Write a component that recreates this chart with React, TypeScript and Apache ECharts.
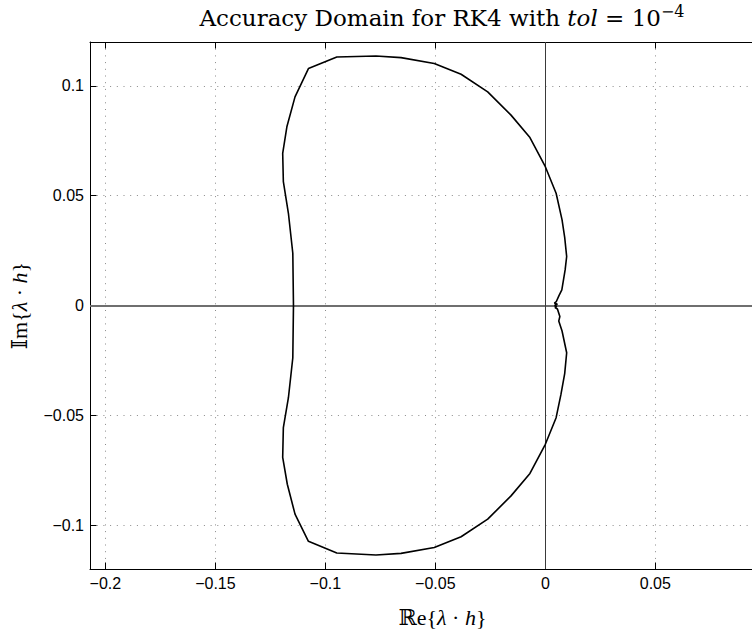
import React, { useEffect, useRef } from 'react';
import * as echarts from 'echarts';

const curveRe = [
  0.0041, 0.0055, 0.0041, 0.005, 0.0062, 0.0075, 0.009, 0.0097, 0.0088, 0.0076, 0.0049, 0.0,
  -0.007, -0.0156, -0.0262, -0.0383, -0.0505, -0.0656, -0.077, -0.0948, -0.1077, -0.1138,
  -0.1175, -0.1194, -0.1191, -0.1168, -0.1148, -0.1145,
  -0.1148, -0.1168, -0.1191, -0.1194, -0.1173, -0.1138, -0.1077, -0.0948, -0.077, -0.0656,
  -0.0505, -0.0383, -0.0262, -0.0156, -0.007, 0.0, 0.0049, 0.0071, 0.0088, 0.0097, 0.0076,
  0.0061, 0.0066, 0.0055, 0.0044, 0.0052, 0.0041,
];
const curveIm = [
  0.0, 0.0006, 0.0011, 0.0018, 0.0045, 0.0071, 0.0162, 0.0223, 0.031, 0.039, 0.0511, 0.0632,
  0.0765, 0.0867, 0.0973, 0.1053, 0.1102, 0.1129, 0.1136, 0.1132, 0.1079, 0.095,
  0.0814, 0.0693, 0.0564, 0.042, 0.0238, 0.0,
  -0.0238, -0.042, -0.0556, -0.0692, -0.0814, -0.095, -0.1074, -0.1127, -0.1136, -0.1129,
  -0.1102, -0.1053, -0.0973, -0.0867, -0.0765, -0.0632, -0.0511, -0.0405, -0.031, -0.0215,
  -0.0116, -0.0071, -0.005, -0.0016, -0.0009, -0.0005, 0.0,
];

const xTicks = [-0.2, -0.15, -0.1, -0.05, 0, 0.05, 0.1];
const xTickLabels = [-0.2, -0.15, -0.1, -0.05, 0, 0.05];
const yTicks = [-0.1, -0.05, 0, 0.05, 0.1];
const xRange = [-0.207, 0.1135];
const yRange = [-0.12, 0.12];
const zeroRe = 0;
const zeroIm = 0;

const SERIF = '"Liberation Serif", "DejaVu Serif", serif';
const TITLE_SERIF = '"DejaVu Serif", "Liberation Serif", serif';
const SANS = '"Liberation Sans", Arial, sans-serif';

const fmt = (v: number) => (v === 0 ? '0' : String(v).replace('-', '\u2212'));

export default function App() {
  const ref = useRef<HTMLDivElement>(null);
  useEffect(() => {
    document.body.style.margin = '0';
    const chart = echarts.init(ref.current!, null, { renderer: 'svg' });
    const tickStyle = { show: true, inside: true, length: 6.5, lineStyle: { color: '#000', width: 1 } };
    const axisLineStyle = { show: true, onZero: false, lineStyle: { color: '#000', width: 1 } };
    const splitStyle = { show: true, lineStyle: { color: '#8a8a8a', width: 1, type: [1, 5.7] } };
    const nameRich = {
      r: { fontFamily: SERIF, fontSize: 22, color: '#000' },
      i: { fontFamily: SERIF, fontSize: 22, fontStyle: 'italic', color: '#000' },
    };
    chart.setOption({
      animation: false,
      backgroundColor: '#fff',
      title: {
        left: 'center',
        top: 3,
        padding: 0,
        text: '{n|Accuracy Domain for RK4 with }{i|tol}{n| = 10}{s|\u22124}',
        textStyle: {
          fontWeight: 'normal',
          rich: {
            n: { fontFamily: TITLE_SERIF, fontSize: 23, fontWeight: 'normal', color: '#000', lineHeight: 30 },
            i: { fontFamily: TITLE_SERIF, fontSize: 23, fontWeight: 'normal', fontStyle: 'italic', color: '#000', lineHeight: 30 },
            s: { fontFamily: TITLE_SERIF, fontSize: 16, fontWeight: 'normal', color: '#000', lineHeight: 18, verticalAlign: 'top' },
          },
        },
      },
      grid: { left: 90, right: 89, top: 42, bottom: 69, containLabel: false },
      xAxis: [
        {
          type: 'value',
          position: 'bottom',
          min: xRange[0],
          max: xRange[1],
          axisLine: axisLineStyle,
          axisTick: { ...tickStyle, customValues: xTicks },
          axisLabel: { customValues: xTickLabels, formatter: fmt, fontFamily: SANS, fontSize: 16, color: '#000', margin: 6 },
          splitLine: splitStyle,
          name: '{r|\u211De{}{i|\u03BB}{r| \u00B7 }{i|h}}',
          nameLocation: 'middle',
          nameGap: 37,
          nameTextStyle: { fontFamily: SERIF, fontSize: 22, color: '#000', rich: nameRich },
        },
        {
          type: 'value',
          position: 'top',
          min: xRange[0],
          max: xRange[1],
          axisLine: axisLineStyle,
          axisTick: { ...tickStyle, customValues: xTicks },
          axisLabel: { show: false, customValues: xTickLabels },
          splitLine: { show: false },
        },
      ],
      yAxis: [
        {
          type: 'value',
          position: 'left',
          min: yRange[0],
          max: yRange[1],
          axisLine: axisLineStyle,
          axisTick: { ...tickStyle, customValues: yTicks },
          axisLabel: { customValues: yTicks, formatter: fmt, fontFamily: SANS, fontSize: 16, color: '#000', margin: 6 },
          splitLine: splitStyle,
          name: '{r|\uD835\uDD40m{}{i|\u03BB}{r| \u00B7 }{i|h}}',
          nameLocation: 'middle',
          nameRotate: 90,
          nameGap: 60,
          nameTextStyle: { fontFamily: SERIF, fontSize: 22, color: '#000', rich: nameRich },
        },
        {
          type: 'value',
          position: 'right',
          min: yRange[0],
          max: yRange[1],
          axisLine: axisLineStyle,
          axisTick: { ...tickStyle, customValues: yTicks },
          axisLabel: { show: false, customValues: yTicks },
          splitLine: { show: false },
        },
      ],
      series: [
        {
          type: 'line',
          data: [],
          silent: true,
          markLine: {
            silent: true,
            symbol: 'none',
            label: { show: false },
            data: [
              { yAxis: zeroIm, lineStyle: { color: '#6f6f6f', width: 2, type: 'solid' } },
              { xAxis: zeroRe, lineStyle: { color: '#3a3a3a', width: 1, type: 'solid' } },
            ],
          },
        },
        {
          type: 'line',
          data: curveRe.map((x, k) => [x, curveIm[k]]),
          showSymbol: false,
          symbol: 'none',
          smooth: false,
          lineStyle: { color: '#000', width: 1.6 },
          z: 5,
        },
      ],
    });
    return () => chart.dispose();
  }, []);
  return (
    <div
      ref={ref}
      style={{ position: 'fixed', left: 0, top: 0, width: 884, height: 638, background: '#fff' }}
    />
  );
}
